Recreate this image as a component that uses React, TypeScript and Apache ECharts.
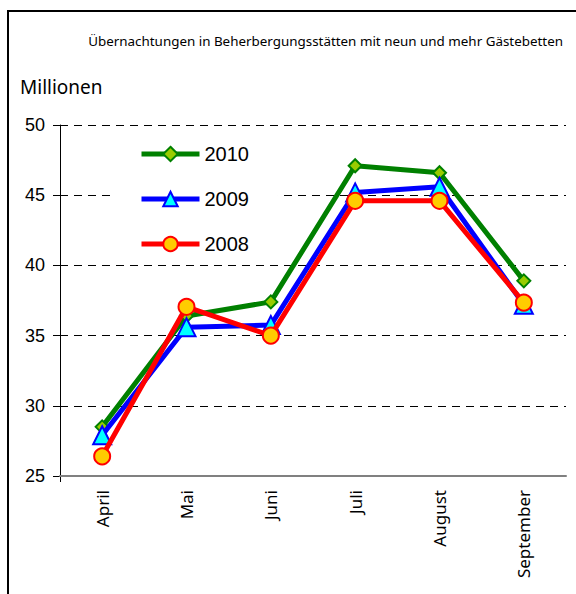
import React, { useEffect, useRef } from "react";
import * as echarts from "echarts";

const months = ["April", "Mai", "Juni", "Juli", "August", "September"];
const v2010 = [28.5, 36.4, 37.4, 47.1, 46.6, 38.9];
const v2009 = [27.9, 35.6, 35.75, 45.2, 45.6, 37.2];
const v2008 = [26.4, 37.05, 35.0, 44.6, 44.6, 37.35];
const yTicks = { min: 25, max: 50, interval: 5 };
const titleText = "Übernachtungen in Beherbergungsstätten mit neun und mehr Gästebetten";
const unitText = "Millionen";

export default function App() {
  const ref = useRef<HTMLDivElement>(null);
  useEffect(() => {
    if (!ref.current) return;
    const chart = echarts.init(ref.current, null, { renderer: "svg" });
    const font = "Noto Sans";
    chart.setOption({
      animation: false,
      backgroundColor: "#fff",
      title: {
        text: titleText,
        right: 13,
        top: 34,
        padding: 0,
        textStyle: { fontFamily: font, fontSize: 13.4, fontWeight: "normal", color: "#000" },
      },
      graphic: [
        { type: "line", shape: { x1: 8, y1: 11, x2: 8, y2: 594 }, style: { stroke: "#000", lineWidth: 2 } },
        { type: "line", shape: { x1: 7, y1: 11, x2: 576, y2: 11 }, style: { stroke: "#000", lineWidth: 2 } },
        { type: "line", shape: { x1: 60.5, y1: 476, x2: 60.5, y2: 482 }, style: { stroke: "#000", lineWidth: 1 } },
        { type: "text", left: 20, top: 77, style: { text: unitText, font: `19px "${font}"`, fill: "#000" } },
      ],
      legend: {
        orient: "vertical",
        left: 115,
        top: 132,
        padding: [12, 29, 5, 24],
        backgroundColor: "#fff",
        itemWidth: 58,
        itemHeight: 18,
        itemGap: 25,
        lineStyle: { width: 5 },
        textStyle: { fontFamily: "Liberation Sans", fontSize: 20, color: "#000", padding: [0, 0, 0, 0] },
        data: ["2010", "2009", "2008"],
      },
      grid: { left: 60, right: 10, top: 125, bottom: 118 },
      xAxis: {
        type: "category",
        data: months,
        boundaryGap: true,
        axisLine: { lineStyle: { color: "#808080", width: 2 } },
        axisTick: { length: 5, lineStyle: { color: "#555", width: 1 } },
        axisLabel: {
          rotate: 90,
          margin: 14,
          fontFamily: font,
          fontSize: 17,
          color: "#000",
        },
        splitLine: { show: false },
        z: 5,
      },
      yAxis: [
        {
          type: "value",
          ...yTicks,
          axisLine: { show: true, lineStyle: { color: "#000", width: 1 } },
          axisTick: { show: true, length: 7, lineStyle: { color: "#000" } },
          axisLabel: { margin: 15, fontFamily: "Liberation Sans", fontSize: 18, color: "#000" },
          splitLine: { show: true, lineStyle: { color: "#000", type: [8, 6], width: 1 } },
        },
        {
          type: "value",
          ...yTicks,
          position: "left",
          axisLine: { show: false },
          axisTick: { show: true, inside: true, length: 5, lineStyle: { color: "#000" } },
          axisLabel: { show: false },
          splitLine: { show: false },
        },
      ],
      series: [
        {
          name: "2010",
          type: "line",
          data: v2010,
          symbol: "diamond",
          symbolSize: 13,
          lineStyle: { color: "#008000", width: 5 },
          itemStyle: { color: "#99cc00", borderColor: "#008000", borderWidth: 2 },
          z: 2,
        },
        {
          name: "2009",
          type: "line",
          data: v2009,
          symbol: "triangle",
          symbolSize: 18,
          lineStyle: { color: "#0000ff", width: 5 },
          itemStyle: { color: "#00ffff", borderColor: "#0000ff", borderWidth: 2 },
          z: 3,
        },
        {
          name: "2008",
          type: "line",
          data: v2008,
          symbol: "circle",
          symbolSize: 16,
          lineStyle: { color: "#ff0000", width: 5 },
          itemStyle: { color: "#ffcc00", borderColor: "#ff0000", borderWidth: 2 },
          z: 4,
        },
      ],
    });
    return () => chart.dispose();
  }, []);
  return <div ref={ref} style={{ width: 576, height: 594, position: "absolute", left: 0, top: 0 }} />;
}
